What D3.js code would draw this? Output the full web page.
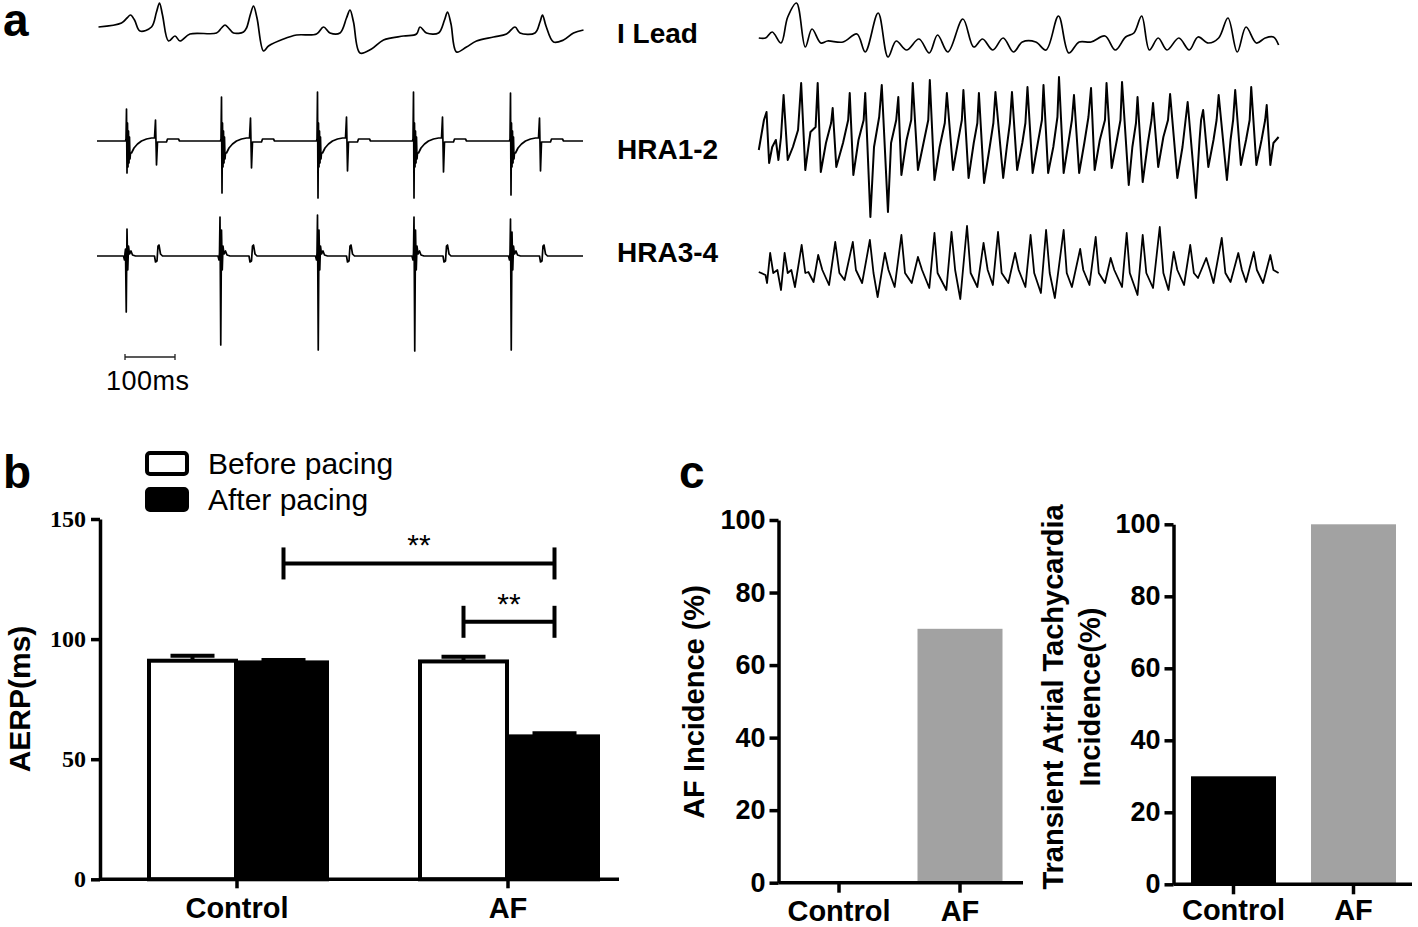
<!DOCTYPE html>
<html>
<head>
<meta charset="utf-8">
<script src="https://cdn.jsdelivr.net/npm/d3@7"></script>
<style>
  body { margin: 0; background: #fff; }
  svg { display: block; font-family: "Liberation Sans", Arial, sans-serif; }
</style>
</head>
<body>
<svg id="fig" width="1418" height="927"></svg>
<script>
// ---------- panel a: traces (time in ms, amplitude in px units, up = positive)
const leadLeft = [[3,3],[49,7],[60,12],[67,15],[75,10],[86,-1],[109,3],[119,18],[125,27],[131,15],[143,-11],[156,-6],[166,-11],[186,-4],[239,-3],[249,2],[256,5],[263,2],[273,-3],[293,-2],[299,2],[307,16],[313,24],[320,12],[333,-21],[343,-16],[373,-9],[399,-5],[439,-4],[453,3],[466,-3],[486,-3],[499,12],[506,20],[513,8],[526,-23],[549,-19],[573,-10],[613,-6],[639,-4],[646,3],[659,-3],[683,-3],[695,10],[701,18],[708,6],[719,-22],[739,-17],[759,-11],[793,-7],[819,-4],[836,3],[846,-3],[876,-3],[886,8],[891,15],[898,4],[913,-12],[933,-10],[953,-3],[973,0]];

// left HRA1-2: one shape per beat, spike sizes read beat by beat
const hra12Onsets = [59, 249, 441, 633, 827];
const hra12Up     = [32, 44, 49, 49, 48];
const hra12Down   = [-32, -52, -57, -57, -54];
const hra12Up2    = [21, 23, 24, 24, 23];
const hra12Down2  = [-24, -27, -30, -31, -30];
const hra12Shape  = [[-2,0],[-1,2],[0,"up"],[1,"down"],[2,18],[3,-26],[4,10],[5,-22],[6,4],[7,-18],[8,-12],[10,-12],[15,-7],[22,-3],[30,0],[40,2],[50,3],[56,3],[58,"up2"],[60,"down2"],[62,-1],[66,-1],[80,-1],[82,2],[104,2],[106,0]];

// left HRA3-4
const hra34Onsets = [57, 246, 441, 634, 827];
const hra34Up     = [7, 39, 41, 39, 37];
const hra34Down   = [-56, -89, -94, -95, -94];
const hra34Post   = [27, 26, 26, 26, 24];
const hra34Shape  = [[-4,0],[-2,-4],[-1,3],[0,"up"],[1.5,"down"],[3,"post"],[4.5,-14],[6,10],[8,2],[11,5],[14,1],[20,0],[58,0],[60,-6],[63,-5],[65,10],[67,11],[70,2],[74,0]];

// right side (AF episode)
const leadRight = [[3,2],[16,2],[29,8],[46,-3],[59,23],[76,37],[93,-7],[106,11],[123,-3],[136,-1],[166,-2],[193,6],[209,-12],[234,27],[253,-17],[269,-1],[289,-10],[313,1],[333,-13],[349,5],[369,-12],[398,21],[419,-7],[436,1],[456,-10],[476,2],[496,-12],[513,-2],[539,-2],[559,-10],[583,24],[603,-13],[623,-2],[646,-2],[673,4],[693,-10],[713,3],[729,7],[744,24],[759,-10],[776,2],[793,-10],[816,2],[836,-10],[853,3],[873,-3],[893,2],[911,22],[929,-12],[946,13],[966,-3],[983,2],[999,3],[1009,-5]];

const hra12Right = [[3,-10],[13,20],[18,28],[23,-23],[29,-7],[36,0],[41,-20],[46,3],[51,45],[59,-20],[69,-7],[79,10],[85,57],[93,-30],[103,8],[113,13],[117,57],[123,-32],[133,-3],[143,17],[146,32],[153,-27],[166,-3],[176,20],[179,47],[186,-35],[196,0],[206,20],[209,47],[219,-77],[226,-7],[236,23],[241,55],[253,-72],[259,-3],[269,20],[273,43],[279,-35],[289,0],[298,20],[301,57],[311,-30],[323,0],[331,20],[334,60],[343,-40],[353,-7],[363,17],[367,47],[379,-30],[389,0],[396,20],[399,50],[409,-38],[419,-3],[426,17],[429,47],[439,-43],[449,-10],[457,17],[461,48],[476,-38],[483,-7],[489,17],[493,48],[503,-30],[513,-3],[519,17],[523,53],[533,-33],[543,-3],[551,20],[554,55],[563,-33],[573,-7],[581,23],[584,63],[593,-33],[603,0],[609,20],[613,45],[623,-33],[633,-3],[641,23],[646,52],[653,-30],[663,0],[673,20],[676,57],[686,-28],[696,0],[703,20],[706,58],[719,-45],[726,-7],[733,17],[736,43],[746,-42],[756,-3],[763,20],[766,37],[776,-27],[786,3],[795,20],[799,46],[813,-38],[823,-7],[829,20],[833,38],[849,-58],[856,0],[859,20],[863,30],[873,-27],[883,0],[889,20],[893,45],[909,-40],[916,0],[921,20],[925,50],[936,-25],[946,0],[953,20],[956,53],[966,-25],[976,0],[983,20],[986,35],[993,-25],[999,-3],[1009,3]];

const hra34Right = [[3,1],[16,-2],[19,-10],[25,20],[31,0],[39,3],[46,-17],[53,20],[59,0],[66,3],[73,-14],[86,28],[93,0],[99,1],[109,-9],[118,18],[126,3],[139,-12],[151,31],[159,0],[169,-7],[185,31],[191,3],[203,-10],[218,33],[225,0],[233,-24],[247,20],[254,3],[266,-14],[279,38],[286,0],[299,-10],[311,16],[319,3],[333,-15],[343,40],[349,0],[366,-17],[376,41],[383,3],[393,-26],[406,47],[413,0],[426,-14],[438,30],[446,3],[456,-12],[466,41],[473,0],[486,-10],[499,20],[506,3],[519,-14],[529,38],[536,0],[549,-20],[559,43],[566,0],[576,-25],[593,43],[599,0],[609,-14],[625,24],[631,3],[643,-12],[655,36],[661,0],[673,-10],[684,15],[691,3],[706,-14],[715,40],[721,0],[736,-22],[746,38],[753,0],[766,-15],[779,46],[786,0],[796,-17],[806,21],[813,3],[826,-12],[838,28],[845,0],[853,-5],[869,15],[876,3],[883,-10],[899,35],[906,0],[916,-9],[931,20],[938,3],[946,-9],[961,21],[967,3],[979,-10],[993,18],[999,3],[1009,0]];

const traceLabels = ["I Lead", "HRA1-2", "HRA3-4"];
const scaleBarMs = 100;

// ---------- panel b: AERP
const aerpGroups    = ["Control", "AF"];
const aerpSeries    = ["Before pacing", "After pacing"];
const aerpBefore    = [91.0, 90.7];
const aerpAfter     = [90.3, 59.5];
const aerpBeforeErr = [2.1, 1.9];
const aerpAfterErr  = [1.0, 1.3];
const aerpTicks     = [0, 50, 100, 150];

// ---------- panel c: incidence
const incGroups   = ["Control", "AF"];
const afIncidence = [0, 70];
const tatIncidence = [30, 100];
const incTicks    = [0, 20, 40, 60, 80, 100];

const svg = d3.select("#fig");
svg.append("rect").attr("width", 1418).attr("height", 927).attr("fill", "#fff");

// panel letters
[["a", 3, 36], ["b", 3, 488], ["c", 679, 488]].forEach(([t, x, y]) => {
  svg.append("text").attr("x", x).attr("y", y).text(t)
    .attr("font-size", 46).attr("font-weight", "bold");
});

// ---------- panel a drawing
const xLeft = d3.scaleLinear().domain([0, 972]).range([97, 583]);
const xRight = d3.scaleLinear().domain([-14, 1009]).range([750, 1278.6]);
const amp = base => d3.scaleLinear().domain([-100, 100]).range([base + 100, base - 100]);

function fromShape(onsets, shape, params, end) {
  let pts = [[0, 0]];
  onsets.forEach((t0, i) => {
    shape.forEach(([dt, v]) => {
      pts.push([t0 + dt, typeof v === "string" ? params[v][i] : v]);
    });
  });
  pts.push([end, 0]);
  return pts;
}

const hra12Left = fromShape(hra12Onsets, hra12Shape, {up: hra12Up, down: hra12Down, up2: hra12Up2, down2: hra12Down2}, 972);
const hra34Left = fromShape(hra34Onsets, hra34Shape, {up: hra34Up, down: hra34Down, post: hra34Post}, 972);

const traces = [
  {pts: leadLeft,   x: xLeft,  y: amp(30),  curve: d3.curveCatmullRom, w: 1.7},
  {pts: hra12Left,  x: xLeft,  y: amp(141), curve: d3.curveLinear, w: 1.7},
  {pts: hra34Left,  x: xLeft,  y: amp(256), curve: d3.curveLinear, w: 1.7},
  {pts: leadRight,  x: xRight, y: amp(40),  curve: d3.curveCatmullRom, w: 1.7},
  {pts: hra12Right, x: xRight, y: amp(140), curve: d3.curveLinear, w: 2},
  {pts: hra34Right, x: xRight, y: amp(273), curve: d3.curveLinear, w: 1.8}
];

traces.forEach(tr => {
  const line = d3.line().x(d => tr.x(d[0])).y(d => tr.y(d[1])).curve(tr.curve);
  svg.append("path").attr("d", line(tr.pts))
    .attr("fill", "none").attr("stroke", "#000").attr("stroke-width", tr.w)
    .attr("stroke-linejoin", "round");
});

[43, 159, 262].forEach((y, i) => {
  svg.append("text").attr("x", 617).attr("y", y).text(traceLabels[i])
    .attr("font-size", 28).attr("font-weight", "bold");
});

// scale bar
const sb = svg.append("g").attr("stroke", "#222").attr("stroke-width", 1.3);
sb.append("line").attr("x1", xLeft(56)).attr("x2", xLeft(56 + scaleBarMs)).attr("y1", 357).attr("y2", 357);
[56, 56 + scaleBarMs].forEach(t => sb.append("line").attr("x1", xLeft(t)).attr("x2", xLeft(t)).attr("y1", 354).attr("y2", 360));
svg.append("text").attr("x", 106).attr("y", 390).text(scaleBarMs + "ms")
  .attr("font-size", 27).attr("letter-spacing", 0.5);

// ---------- panel b drawing
const yB = d3.scaleLinear().domain([0, 150]).range([879.3, 519]);
const xB = d3.scaleBand().domain(aerpGroups).range([101.5, 643.5]);
const xBInner = d3.scaleBand().domain(["before", "after"]).range([-90, 92]);
const bCenter = g => xB(g) + xB.bandwidth() / 2;

const aerpRows = aerpGroups.flatMap((g, i) => [
  {g, s: "before", v: aerpBefore[i], e: aerpBeforeErr[i], fill: "#fff"},
  {g, s: "after",  v: aerpAfter[i],  e: aerpAfterErr[i],  fill: "#000"}
]);

const gB = svg.append("g");
gB.selectAll("rect.bar").data(aerpRows).join("rect")
  .attr("x", d => bCenter(d.g) + xBInner(d.s) + 2)
  .attr("width", xBInner.bandwidth() - 4)
  .attr("y", d => yB(d.v))
  .attr("height", d => yB(0) - yB(d.v))
  .attr("fill", d => d.fill).attr("stroke", "#000").attr("stroke-width", 4);

gB.selectAll("g.err").data(aerpRows).join("g").each(function (d) {
  const cx = bCenter(d.g) + xBInner(d.s) + xBInner.bandwidth() / 2;
  const g = d3.select(this).attr("stroke", "#000").attr("stroke-width", 4);
  g.append("line").attr("x1", cx).attr("x2", cx).attr("y1", yB(d.v)).attr("y2", yB(d.v + d.e));
  g.append("line").attr("x1", cx - 22).attr("x2", cx + 22).attr("y1", yB(d.v + d.e)).attr("y2", yB(d.v + d.e));
});

const yAxisB = gB.append("g").attr("transform", "translate(100,0)")
  .call(d3.axisLeft(yB).tickValues(aerpTicks).tickSize(9).tickSizeOuter(0).tickPadding(5));
yAxisB.selectAll("line,path").attr("stroke", "#000").attr("stroke-width", 3.5);
yAxisB.selectAll("text").attr("font-family", "'Liberation Serif', 'Times New Roman', serif")
  .attr("font-weight", "bold").attr("font-size", 24).attr("fill", "#000");

const xAxisB = gB.append("g").attr("transform", `translate(0,${yB(0)})`)
  .call(d3.axisBottom(xB).tickSize(9).tickSizeOuter(0).tickPadding(9));
xAxisB.select(".domain").remove();
xAxisB.append("line").attr("x1", 100).attr("x2", 619).attr("stroke", "#000").attr("stroke-width", 3.5);
xAxisB.selectAll(".tick line").attr("stroke", "#000").attr("stroke-width", 3.5);
xAxisB.selectAll("text").attr("font-size", 29).attr("font-weight", "bold").attr("fill", "#000")
  .attr("font-family", "'Liberation Sans', Arial, sans-serif");

gB.append("text").attr("transform", "translate(19,699) rotate(-90)")
  .attr("text-anchor", "middle").attr("dominant-baseline", "central")
  .attr("font-size", 30).attr("font-weight", "bold").text("AERP(ms)");

// legend
const legFill = ["#fff", "#000"];
aerpSeries.forEach((s, i) => {
  svg.append("rect").attr("x", 147).attr("y", 453 + i * 36).attr("width", 40).attr("height", 21)
    .attr("rx", 3).attr("fill", legFill[i]).attr("stroke", "#000").attr("stroke-width", 4);
  svg.append("text").attr("x", 208).attr("y", 474 + i * 36).text(s).attr("font-size", 30);
});

// significance brackets
const sigBrackets = [
  {a: ["Control", "after"], b: ["AF", "after"], level: 131.5, label: "**"},
  {a: ["AF", "before"], b: ["AF", "after"], level: 107.2, label: "**"}
];
sigBrackets.forEach(br => {
  const x1 = bCenter(br.a[0]) + xBInner(br.a[1]) + xBInner.bandwidth() / 2;
  const x2 = bCenter(br.b[0]) + xBInner(br.b[1]) + xBInner.bandwidth() / 2;
  const y = yB(br.level);
  const g = svg.append("g").attr("stroke", "#000").attr("stroke-width", 4);
  g.append("line").attr("x1", x1).attr("x2", x2).attr("y1", y).attr("y2", y);
  [x1, x2].forEach(x => g.append("line").attr("x1", x).attr("x2", x).attr("y1", y - 16).attr("y2", y + 16));
  svg.append("text").attr("x", (x1 + x2) / 2).attr("y", y - 8).attr("text-anchor", "middle")
    .attr("font-size", 30).text(br.label);
});

// ---------- panel c drawing
function incidencePanel(opts) {
  const y = d3.scaleLinear().domain([0, 100]).range([opts.bottom, opts.top]);
  const x = d3.scaleBand().domain(incGroups).range([opts.left, opts.left + 2 * opts.step]);
  const g = svg.append("g");
  g.selectAll("rect").data(opts.values).join("rect")
    .attr("x", (d, i) => x(incGroups[i]) + (x.bandwidth() - opts.barW) / 2)
    .attr("width", opts.barW)
    .attr("y", d => y(d))
    .attr("height", d => y(0) - y(d))
    .attr("fill", (d, i) => opts.colors[i]);

  const ya = g.append("g").attr("transform", `translate(${opts.left},0)`)
    .call(d3.axisLeft(y).tickValues(incTicks).tickSize(9).tickSizeOuter(0).tickPadding(4));
  ya.selectAll("line,path").attr("stroke", "#000").attr("stroke-width", 3.5);
  ya.selectAll("text").attr("font-size", 27).attr("font-weight", "bold").attr("fill", "#000")
    .attr("font-family", "'Liberation Sans', Arial, sans-serif");

  const xa = g.append("g").attr("transform", `translate(0,${y(0)})`)
    .call(d3.axisBottom(x).tickSize(10).tickSizeOuter(0).tickPadding(opts.labelPad));
  xa.select(".domain").remove();
  xa.append("line").attr("x1", opts.left).attr("x2", opts.axisEnd).attr("stroke", "#000").attr("stroke-width", 3.5);
  xa.selectAll(".tick line").attr("stroke", "#000").attr("stroke-width", 3.5);
  xa.selectAll("text").attr("font-size", 29).attr("font-weight", "bold").attr("fill", "#000")
    .attr("font-family", "'Liberation Sans', Arial, sans-serif");

  opts.title.forEach((t, i) => {
    g.append("text").attr("transform", `translate(${opts.titleX[i]},${opts.titleY}) rotate(-90)`)
      .attr("text-anchor", "middle").attr("dominant-baseline", "central")
      .attr("font-size", 29).attr("font-weight", "bold").text(t);
  });
}

incidencePanel({left: 778.5, step: 121, top: 520, bottom: 882.7, axisEnd: 1023, barW: 85, labelPad: 8,
  values: afIncidence, colors: ["#000", "#a2a2a2"],
  title: ["AF Incidence (%)"], titleX: [694], titleY: 702});

incidencePanel({left: 1173.5, step: 120, top: 524.3, bottom: 884.3, axisEnd: 1412, barW: 85, labelPad: 5,
  values: tatIncidence, colors: ["#000", "#a2a2a2"],
  title: ["Transient Atrial Tachycardia", "Incidence(%)"], titleX: [1053, 1090], titleY: 697});
</script>
</body>
</html>
